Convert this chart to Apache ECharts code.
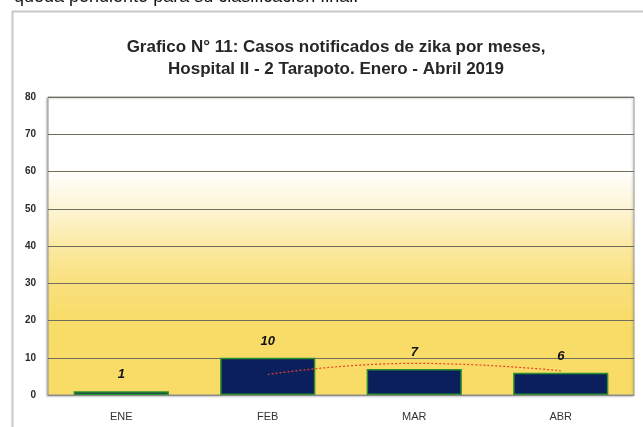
<!DOCTYPE html>
<html>
<head>
<meta charset="utf-8">
<script src="https://cdn.jsdelivr.net/npm/echarts@6/dist/echarts.min.js"></script>
<style>
  html, body { margin: 0; padding: 0; background: #fff; }
  #chart { width: 643px; height: 427px; }
</style>
</head>
<body>
<div id="chart"></div>
<script>
const months = ['ENE', 'FEB', 'MAR', 'ABR'];
const cases = [1, 10, 7, 6];
// moving average (2 periods) trend line
const trend = [null, 5.5, 8.5, 6.5];
const yTicks = [0, 10, 20, 30, 40, 50, 60, 70, 80];

const chart = echarts.init(document.getElementById('chart'));

const option = {
  animation: false,
  backgroundColor: '#ffffff',
  title: {
    text: 'Grafico N° 11: Casos notificados de zika por meses,\nHospital II - 2 Tarapoto. Enero - Abril 2019',
    left: 331,
    textAlign: 'center',
    top: 31,
    textStyle: {
      fontFamily: 'Liberation Sans, Arial',
      fontWeight: 'bold',
      fontSize: 17,
      lineHeight: 22,
      color: '#262626'
    }
  },
  graphic: [
    {
      type: 'rect',
      shape: { x: 12.5, y: 11.5, width: 700, height: 500 },
      style: { fill: 'none', stroke: '#c8c8c8', lineWidth: 2 }
    },
    {
      type: 'text',
      left: 14,
      top: -12,
      style: {
        text: 'queda pendiente para su clasificación final.',
        font: '18px Liberation Sans, Arial',
        fill: '#111'
      }
    }
  ],
  grid: {
    left: 48,
    right: 9,
    top: 97,
    bottom: 32,
    show: true,
    borderColor: '#9a9a9a',
    borderWidth: 1,
    shadowColor: 'rgba(0,0,0,0.25)',
    shadowBlur: 2,
    shadowOffsetX: -1,
    shadowOffsetY: 1,
    backgroundColor: new echarts.graphic.LinearGradient(0, 0, 0, 1, [
      { offset: 0, color: '#ffffff' },
      { offset: 0.24, color: '#ffffff' },
      { offset: 0.375, color: '#fdf5d6' },
      { offset: 0.5, color: '#fbe9a2' },
      { offset: 0.625, color: '#f9e07d' },
      { offset: 0.75, color: '#f8dc68' },
      { offset: 1, color: '#f8dc66' }
    ])
  },
  xAxis: {
    type: 'category',
    data: months,
    axisTick: { show: false },
    axisLine: { lineStyle: { color: '#8a8a8a', width: 1 } },
    axisLabel: {
      margin: 16,
      fontFamily: 'Liberation Sans, Arial',
      fontSize: 11,
      color: '#333'
    }
  },
  yAxis: {
    type: 'value',
    min: yTicks[0],
    max: yTicks[yTicks.length - 1],
    interval: 10,
    axisLine: { show: false },
    axisTick: { show: false },
    axisLabel: {
      margin: 12,
      fontFamily: 'Liberation Sans, Arial',
      fontWeight: 'bold',
      fontSize: 10,
      color: '#2a2a2a'
    },
    splitLine: { lineStyle: { color: '#6f6d5e', width: 1 } }
  },
  series: [
    {
      type: 'bar',
      data: cases,
      barWidth: '65%',
      itemStyle: {
        color: '#0b1f5c',
        borderColor: '#2f8f2f',
        borderWidth: 1.5
      },
      label: {
        show: true,
        position: 'top',
        distance: 10,
        fontFamily: 'Liberation Sans, Arial',
        fontStyle: 'italic',
        fontWeight: 'bold',
        fontSize: 13,
        color: '#111'
      },
      z: 2
    },
    {
      type: 'line',
      data: trend,
      smooth: true,
      symbol: 'none',
      lineStyle: { color: '#e8402a', width: 1.2, type: [2, 2] },
      z: 3
    }
  ]
};

chart.setOption(option);
</script>
</body>
</html>
